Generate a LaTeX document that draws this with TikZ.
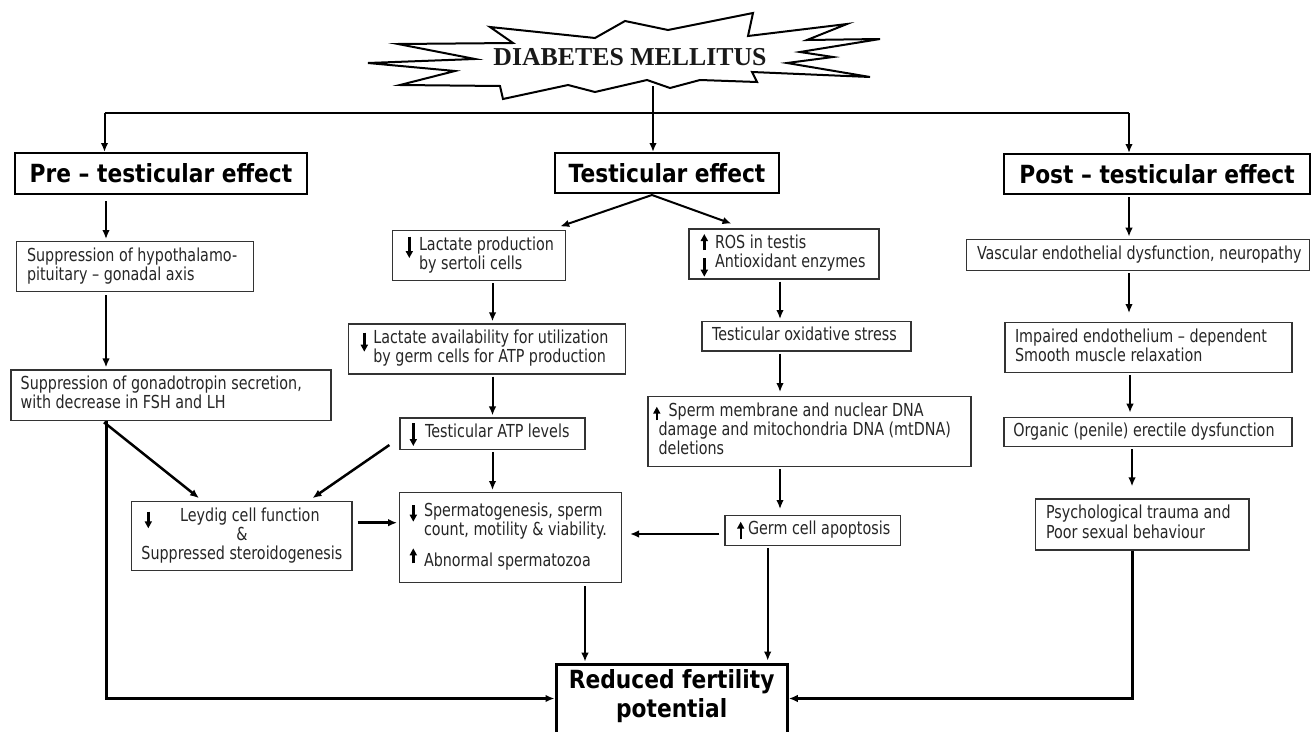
\documentclass[tikz,border=0pt]{standalone}
\usepackage{fontspec}
\setmainfont{DejaVu Sans}[FakeStretch=0.8]
\newfontfamily\hdfam{DejaVu Sans}[FakeStretch=0.87]
\newfontfamily\dmfont{Liberation Serif}
\usetikzlibrary{arrows.meta,calc}
\newcommand{\bt}{\fontsize{17.9}{18.6}\selectfont}
\newcommand{\hdfont}{\hdfam\fontsize{25}{29.5}\selectfont\bfseries}
\newcommand{\lbox}[3]{\makebox[#1pt][l]{\hspace*{#2pt}\begin{tabular}{@{}l@{}}#3\end{tabular}}}
\tikzset{
  box/.style={draw=black!80, line width=1.2pt, inner sep=0pt, font=\bt, text=black!85},
  head/.style={draw=black, line width=2pt, inner sep=0pt, font=\hdfont},
  arr/.style={line width=2pt, -{Latex[length=9pt,width=7.5pt]}},
  conn/.style={line width=2.5pt},
  garr/.style={line width=2.4pt, -{Triangle[length=7pt,width=7pt]}},
}
\begin{document}
\begin{tikzpicture}[x=1pt,y=-1pt]
\useasboundingbox[fill=white] (0,0) rectangle (1311,731);
% starburst
\draw[line width=2pt, fill=white, line join=miter]
 (398,44) -- (513,43) -- (490,27) -- (595,38) -- (625,21) -- (668,30) -- (753,13) -- (748,36)
 -- (847,24) -- (807,40) -- (880,39) -- (800,52) -- (833,57) -- (787,63) -- (870,77) -- (752,72)
 -- (757,82) -- (700,80) -- (670,88) -- (647,80) -- (595,92) -- (568,85) -- (503,99) -- (500,86)
 -- (400,85) -- (455,71) -- (368,63) -- (475,59) -- cycle;
\node[font={\dmfont\fontsize{25.8}{30}\selectfont\bfseries}, text=black!90, inner sep=0pt] (dm) at (630,57.5) {DIABETES MELLITUS};

% headings
\node[head, minimum height=41pt] (pre) at (161,173.5) {\makebox[292pt]{Pre – testicular effect}};
\node[head, minimum height=40pt] (test) at (667,173) {\makebox[224pt]{Testicular effect}};
\node[head, minimum height=40pt] (post) at (1157,174) {\makebox[306pt]{Post – testicular effect}};

% boxes
\node[box, minimum height=50pt] (supp) at (135,266.7) {\lbox{236.6}{10.3}{Suppression of hypothalamo-\\pituitary – gonadal axis}};
\node[box, minimum height=50.7pt] (gonad) at (171,395.35) {\lbox{320}{9.7}{Suppression of gonadotropin secretion,\\with decrease in FSH and LH}};
\node[box, minimum height=50pt] (lact) at (479.1,255.7) {\lbox{173.2}{26.5}{Lactate production\\by sertoli cells}};
\node[box, minimum height=50pt] (lavail) at (487,349) {\lbox{277.4}{25}{Lactate availability for utilization\\by germ cells for ATP production}};
\node[box, minimum height=31.3pt] (atp) at (492.5,433.7) {\lbox{185}{25}{Testicular ATP levels}};
\node[box, minimum height=50pt] (ros) at (784,254) {\lbox{190}{26}{ROS in testis\\Antioxidant enzymes}};
\node[box, minimum height=29.3pt] (ox) at (806.5,336.35) {\lbox{209}{10}{Testicular oxidative stress}};
\node[box, minimum height=70pt] (dna) at (809.5,431.7) {\lbox{323}{10.6}{\hspace*{10pt}Sperm membrane and nuclear DNA\\damage and mitochondria DNA (mtDNA)\\deletions}};
\node[box, minimum height=69pt] (leydig) at (241.85,536.2) {\makebox[220.3pt]{\begin{tabular}{@{}c@{}}\hspace*{16pt}Leydig cell function\\\&\\Suppressed steroidogenesis\end{tabular}}};
\node[box, minimum height=90pt] (spg) at (510.55,537.7) {\lbox{221.7}{24.3}{Spermatogenesis, sperm\\count, motility \& viability.\\[12pt]Abnormal spermatozoa}};
\node[box, minimum height=29.6pt] (germ) at (812.75,530.5) {\lbox{175.5}{23}{Germ cell apoptosis}};
\node[box, minimum height=31.4pt] (vasc) at (1138.2,255) {\lbox{343}{10.3}{Vascular endothelial dysfunction, neuropathy}};
\node[box, minimum height=50pt] (imp) at (1148.5,347.7) {\lbox{287}{10}{Impaired endothelium – dependent\\Smooth muscle relaxation}};
\node[box, minimum height=29.4pt] (org) at (1148,432) {\lbox{288}{9.3}{Organic (penile) erectile dysfunction}};
\node[box, minimum height=51pt] (psych) at (1142.35,524.5) {\lbox{213.3}{10.3}{Psychological trauma and\\Poor sexual behaviour}};
\node[head, line width=3pt, anchor=north, inner ysep=3.35pt, text depth=60pt] (red) at (671.65,662.7) {\makebox[231.3pt]{\begin{tabular}[t]{@{}c@{}}Reduced fertility\\potential\end{tabular}}};

% small up/down arrows inside boxes
\draw[garr] (409.3,236.7) -- (409.3,258);
\draw[garr] (364.3,332.7) -- (364.3,351.7);
\draw[garr] (413.3,423) -- (413.3,446);
\draw[garr] (704.3,250) -- (704.3,234);
\draw[garr] (704.3,258.3) -- (704.3,276.7);
\draw[garr] (656.8,420) -- (656.8,406.7);
\draw[garr] (148.3,511.7) -- (148.3,528.3);
\draw[garr] (413.3,505) -- (413.3,521.7);
\draw[garr] (413.3,563.3) -- (413.3,548.3);
\draw[garr] (740.7,539.3) -- (740.7,521.7);

% column coordinates
\coordinate (starb) at (653,86);
\coordinate (barL) at (104.5,113);
\coordinate (barR) at (1129,113);
\coordinate (cL) at (106,0);
\coordinate (cLa) at (492.5,0);
\coordinate (cR) at (780,0);
\coordinate (cS) at (585,0);
\coordinate (cG) at (767.7,0);
\coordinate (cP) at (1132.7,0);
\coordinate (cPo) at (1129,0);
\coordinate (cPo2) at (1130,0);
\coordinate (cPo3) at (1132,0);
\coordinate (yRed) at (0,698.5);

% top connectors
\draw[conn] (barL) -- (barR);
\draw[arr] (barL) -- (barL |- pre.north);
\draw[arr] (starb) -- (starb |- test.north);
\draw[arr] (barR) -- (barR |- post.north);

% pre-testicular column
\draw[arr, shorten <=6pt, shorten >=2pt] (cL |- pre.south) -- (cL |- supp.north);
\draw[arr, shorten <=3pt, shorten >=2pt] (cL |- supp.south) -- (cL |- gonad.north);
\draw[arr, line width=2.5pt] ([xshift=-2pt,yshift=-1pt]gonad.south west -| cL) -- ([xshift=-42.85pt,yshift=3pt]leydig.north);
\draw[arr, line width=2.5pt] ([xshift=-10pt,yshift=-11.3pt]atp.west) -- ([xshift=70.65pt,yshift=3pt]leydig.north);
\draw[arr, line width=2.5pt, shorten <=5pt, shorten >=2pt] ([yshift=13.5pt]leydig.east) -- ([yshift=13.5pt]leydig.east -| spg.west);
\draw[line width=3pt, -{Latex[length=9pt,width=7.5pt]}] (cL |- gonad.south) -- (cL |- yRed) -- (red.west |- yRed);

% testicular column
\draw[arr, shorten >=2pt] ([xshift=-15pt,yshift=-1pt]test.south) -- ([xshift=-8pt,yshift=3pt]lact.north east);
\draw[arr, shorten >=2pt] ([xshift=-15pt,yshift=-1pt]test.south) -- ([xshift=45pt,yshift=4pt]ros.north west);
\draw[arr, shorten <=2pt, shorten >=2pt] (cLa |- lact.south) -- (cLa |- lavail.north);
\draw[arr, shorten <=2pt, shorten >=2pt] (cLa |- lavail.south) -- (cLa |- atp.north);
\draw[arr, shorten <=2pt, shorten >=2pt] (cLa |- atp.south) -- (cLa |- spg.north);
\draw[arr, shorten <=2pt, shorten >=2pt] (cR |- ros.south) -- (cR |- ox.north);
\draw[arr, shorten <=2pt, shorten >=4pt] (cR |- ox.south) -- (cR |- dna.north);
\draw[arr, shorten <=2pt, shorten >=6pt] (cR |- dna.south) -- (cR |- germ.north);
\draw[arr, line width=2.5pt, shorten <=5pt, shorten >=8pt] ([yshift=-3.5pt]germ.west) -- ([yshift=-3.5pt]germ.west -| spg.east);
\draw[arr, shorten <=3pt, shorten >=1pt] (cS |- spg.south) -- (cS |- red.north);
\draw[arr, shorten <=2pt, shorten >=2pt] (cG |- germ.south) -- (cG |- red.north);

% post-testicular column
\draw[arr, shorten <=2pt, shorten >=2pt] (cPo |- post.south) -- (cPo |- vasc.north);
\draw[arr, shorten <=2pt, shorten >=9pt] (cPo |- vasc.south) -- (cPo |- imp.north);
\draw[arr, shorten <=2pt, shorten >=4pt] (cPo2 |- imp.south) -- (cPo2 |- org.north);
\draw[arr, shorten <=2pt, shorten >=12pt] (cPo3 |- org.south) -- (cPo3 |- psych.north);
\draw[line width=3pt, -{Latex[length=9pt,width=7.5pt]}] (cP |- psych.south) -- (cP |- yRed) -- (red.east |- yRed);
\end{tikzpicture}
\end{document}
